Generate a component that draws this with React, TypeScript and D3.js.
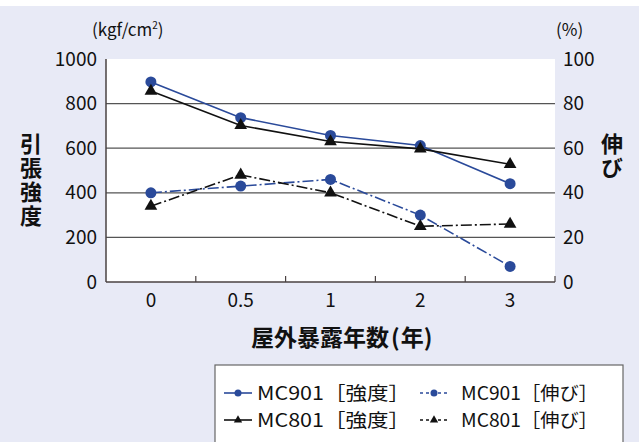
import React from "react";
import * as d3 from "d3";

const categories = ["0", "0.5", "1", "2", "3"];
const mc901Strength = [897, 737, 657, 612, 441];
const mc801Strength = [856, 702, 630, 597, 528];
const mc901Elong = [40, 43, 46, 30, 7];
const mc801Elong = [34, 48, 40, 25, 26];
const leftTicks = [0, 200, 400, 600, 800, 1000];
const rightTicks = [0, 20, 40, 60, 80, 100];
const legendLabels = ["MC901［強度］", "MC901［伸び］", "MC801［強度］", "MC801［伸び］"];

const W = 642, H = 442;
const FONT = "'Noto Sans CJK JP', 'Noto Sans', sans-serif";
const BLUE = "#2a4a9a";
const BLACK = "#111";
const BG = "#e8eaf6";
const DASHDOT = "11 3 2 3";

export default function App() {
  const left = 106, right = 555, top = 59, bottom = 282;
  const x = d3.scaleBand().domain(categories).range([left, right]).padding(0);
  const yL = d3.scaleLinear().domain([0, 1000]).range([bottom, top]);
  const yR = d3.scaleLinear().domain([0, 100]).range([bottom, top]);
  const cx = (c: string) => (x(c) as number) + x.bandwidth() / 2;

  const lineL = d3.line<number>().x((_, i) => cx(categories[i])).y((d) => yL(d));
  const lineR = d3.line<number>().x((_, i) => cx(categories[i])).y((d) => yR(d));
  const tri = d3.symbol().type(d3.symbolTriangle).size(70)();
  const triSmall = d3.symbol().type(d3.symbolTriangle).size(30)();

  const series = [
    { data: mc901Strength, line: lineL, scale: yL, color: BLUE, dash: undefined, marker: "circle" },
    { data: mc801Strength, line: lineL, scale: yL, color: BLACK, dash: undefined, marker: "tri" },
    { data: mc901Elong, line: lineR, scale: yR, color: BLUE, dash: DASHDOT, marker: "circle" },
    { data: mc801Elong, line: lineR, scale: yR, color: BLACK, dash: DASHDOT, marker: "tri" },
  ];

  const boundaries = categories.map((c) => x(c) as number).slice(1).concat([right]);

  const legendItems = [
    { label: legendLabels[0], color: BLUE, dash: undefined, marker: "circle", lx: 224, tx: 257, y: 393, tl: 153 },
    { label: legendLabels[1], color: BLUE, dash: "3 3", marker: "circle", lx: 420, tx: 461, y: 393, tl: 137 },
    { label: legendLabels[2], color: BLACK, dash: undefined, marker: "tri", lx: 224, tx: 257, y: 420, tl: 153 },
    { label: legendLabels[3], color: BLACK, dash: "3 3", marker: "tri", lx: 420, tx: 461, y: 420, tl: 137 },
  ];

  return (
    <svg width={W} height={H} style={{ position: "absolute", left: 0, top: 0, fontFamily: FONT }}>
      <rect x={0} y={0} width={W} height={H} fill="#fff" />
      <rect x={0} y={6} width={639} height={H - 6} fill={BG} />
      <rect x={left} y={top} width={right - left} height={bottom - top} fill="#fff" />
      {leftTicks.slice(1, -1).map((t) => (
        <line key={t} x1={left} x2={right} y1={yL(t)} y2={yL(t)} stroke="#555" strokeWidth={1.2} />
      ))}
      <line x1={left} x2={left} y1={top} y2={bottom} stroke="#4a4242" strokeWidth={1.5} />
      <line x1={left} x2={right} y1={bottom} y2={bottom} stroke="#4a4242" strokeWidth={1.5} />
      {boundaries.map((b, i) => (
        <line key={i} x1={b} x2={b} y1={bottom} y2={bottom - 6} stroke="#4a4242" strokeWidth={1.2} />
      ))}
      {leftTicks.map((t) => (
        <text key={t} x={97} y={yL(t)} dy="0.35em" textAnchor="end" fontSize={19} fill="#111">{t}</text>
      ))}
      {rightTicks.map((t) => (
        <text key={t} x={563} y={yR(t)} dy="0.35em" textAnchor="start" fontSize={19} fill="#111">{t}</text>
      ))}
      {categories.map((c) => (
        <text key={c} x={cx(c)} y={bottom + 25} textAnchor="middle" fontSize={19} fill="#111">{c}</text>
      ))}
      <text x={92} y={36} fontSize={17} fill="#111">(kgf/cm<tspan fontSize={10} dy={-7}>2</tspan><tspan dy={7}>)</tspan></text>
      <text x={556} y={36} fontSize={17} fill="#111">(%)</text>
      <text x={31} y={181} textAnchor="middle" writingMode="vertical-rl" letterSpacing={2} fontSize={22} fontWeight="bold" fill="#111">引張強度</text>
      <text x={612} y={157} textAnchor="middle" writingMode="vertical-rl" letterSpacing={2} fontSize={22} fontWeight="bold" fill="#111">伸び</text>
      <text x={251} y={346} fontSize={23} fontWeight="bold" fill="#111">屋外暴露年数<tspan dx={2}>(</tspan><tspan dx={1}>年</tspan>)</text>

      {series.map((s, si) => (
        <g key={si}>
          <path d={s.line(s.data) || ""} fill="none" stroke={s.color} strokeWidth={1.6} strokeDasharray={s.dash} />
          {s.data.map((v, i) =>
            s.marker === "circle" ? (
              <circle key={i} cx={cx(categories[i])} cy={s.scale(v)} r={5.5} fill={s.color} />
            ) : (
              <path key={i} d={tri || ""} transform={`translate(${cx(categories[i])},${s.scale(v)})`} fill={s.color} />
            )
          )}
        </g>
      ))}

      <rect x={215} y={365} width={408} height={90} fill="#fff" stroke="#666" strokeWidth={1.2} />
      {legendItems.map((it, i) => (
        <g key={i}>
          <line x1={it.lx} x2={it.lx + 28} y1={it.y} y2={it.y} stroke={it.color} strokeWidth={1.6} strokeDasharray={it.dash} />
          {it.marker === "circle" ? (
            <circle cx={it.lx + 14} cy={it.y} r={3.5} fill={it.color} />
          ) : (
            <path d={triSmall || ""} transform={`translate(${it.lx + 14},${it.y})`} fill={it.color} />
          )}
          <text x={it.tx} y={it.y} dy="0.36em" fontSize={18.5} textLength={it.tl} lengthAdjust="spacingAndGlyphs" fill="#111">{it.label}</text>
        </g>
      ))}
    </svg>
  );
}
